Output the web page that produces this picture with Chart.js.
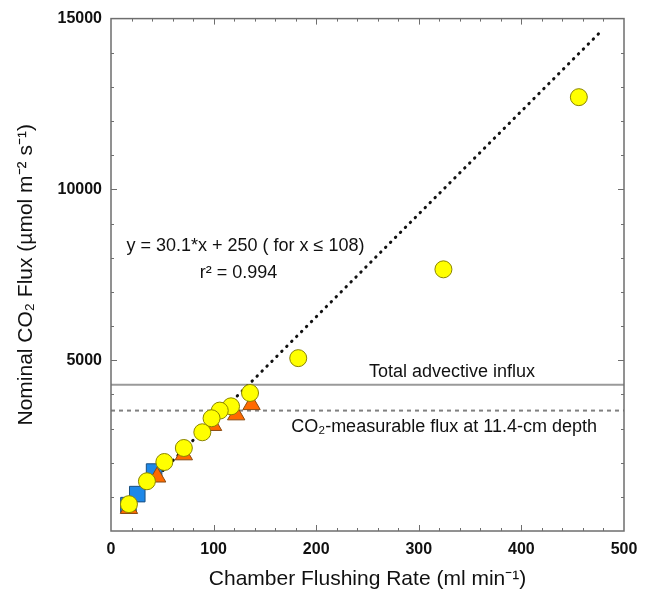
<!DOCTYPE html>
<html>
<head>
<meta charset="utf-8">
<script src="https://cdn.jsdelivr.net/npm/chart.js@4.4.1/dist/chart.umd.min.js"></script>
<style>
  html, body { margin: 0; padding: 0; background: #fff; }
  #wrap { width: 648px; height: 592px; }
</style>
</head>
<body>
<div id="wrap"><canvas id="myChart" width="648" height="592"></canvas></div>
<script>
// flushing rate (ml/min) and nominal CO2 flux
const rateCircle = [456, 324, 182.5, 135.5, 117, 106, 98, 89, 71, 52, 35, 17.5];
const fluxCircle = [12700, 7660, 5060, 4040, 3650, 3525, 3300, 2890, 2430, 2020, 1456, 786];
const rateTriangle = [17.5, 45, 71, 99.5, 122, 137];
const fluxTriangle = [660, 1580, 2230, 3090, 3400, 3700];
const rateSquare = [17, 25.6, 42];
const fluxSquare = [757, 1080, 1740];

// fitted line y = 30.1*x + 250, end points
const fitRate = [17, 478];
const fitFlux = [760, 14640];

// reference levels
const levelRate = [0, 500];
const totalInflux = [4280, 4280];
const measurableFlux = [3525, 3525];

const xTicks = [0, 100, 200, 300, 400, 500];
const yTicks = [5000, 10000, 15000];

const toPoints = (xs, ys) => xs.map((x, i) => ({ x: x, y: ys[i] }));

const FONT = '"Liberation Sans", Arial, sans-serif';

// frame, inward ticks and text notes
const decor = {
    id: 'decor',
    afterDraw(chart) {
        const ctx = chart.ctx;
        const a = chart.chartArea;
        const xs = chart.scales.x;
        const ys = chart.scales.y;
        ctx.save();
        ctx.strokeStyle = '#6e6e6e';
        ctx.lineWidth = 1.5;
        ctx.strokeRect(a.left, a.top, a.right - a.left, a.bottom - a.top);

        ctx.lineWidth = 1;
        for (let v = 20; v < 500; v += 20) {
            const px = Math.round(xs.getPixelForValue(v)) + 0.5;
            const len = v % 100 === 0 ? 6 : 3;
            ctx.beginPath();
            ctx.moveTo(px, a.bottom); ctx.lineTo(px, a.bottom - len);
            ctx.moveTo(px, a.top); ctx.lineTo(px, a.top + len);
            ctx.stroke();
        }
        for (let v = 1000; v < 15000; v += 1000) {
            const py = Math.round(ys.getPixelForValue(v)) + 0.5;
            const len = v % 5000 === 0 ? 6 : 3;
            ctx.beginPath();
            ctx.moveTo(a.left, py); ctx.lineTo(a.left + len, py);
            ctx.moveTo(a.right, py); ctx.lineTo(a.right - len, py);
            ctx.stroke();
        }

        ctx.fillStyle = '#111';
        ctx.textBaseline = 'middle';
        ctx.textAlign = 'center';
        ctx.font = '18px ' + FONT;
        ctx.fillText('y = 30.1*x + 250 ( for x \u2264 108)', xs.getPixelForValue(131), ys.getPixelForValue(8330));
        ctx.fillText('r\u00B2 = 0.994', xs.getPixelForValue(124.3), ys.getPixelForValue(7545));
        ctx.fillText('Total advective influx', xs.getPixelForValue(332.4), ys.getPixelForValue(4660));
        ctx.fillText('CO\u2082-measurable flux at 11.4-cm depth', xs.getPixelForValue(324.6), ys.getPixelForValue(3030));
        ctx.restore();
    }
};

const ctx = document.getElementById('myChart').getContext('2d');

const myChart = new Chart(ctx, {
    type: 'scatter',
    data: {
        datasets: [
            {
                label: 'Measured',
                data: toPoints(rateCircle, fluxCircle),
                pointStyle: 'circle',
                pointRadius: 8.5,
                backgroundColor: '#ffff00',
                borderColor: '#8a8400',
                borderWidth: 1,
                order: 1
            },
            {
                label: 'Triangles',
                data: toPoints(rateTriangle, fluxTriangle),
                pointStyle: 'triangle',
                pointRadius: 10,
                backgroundColor: '#ff6a00',
                borderColor: '#8a4a10',
                borderWidth: 1,
                order: 2
            },
            {
                label: 'Squares',
                data: toPoints(rateSquare, fluxSquare),
                pointStyle: 'rect',
                pointRadius: 11,
                backgroundColor: '#1e88e8',
                borderColor: '#1a4f80',
                borderWidth: 1,
                order: 3
            },
            {
                label: 'Fit',
                type: 'line',
                data: toPoints(fitRate, fitFlux),
                borderColor: '#111',
                borderWidth: 3,
                borderDash: [0.5, 6.5],
                borderCapStyle: 'round',
                pointRadius: 0,
                order: 4
            },
            {
                label: 'Total advective influx',
                type: 'line',
                data: toPoints(levelRate, totalInflux),
                borderColor: '#9a9a9a',
                borderWidth: 2,
                pointRadius: 0,
                order: 5
            },
            {
                label: 'CO2-measurable flux',
                type: 'line',
                data: toPoints(levelRate, measurableFlux),
                borderColor: '#808080',
                borderWidth: 2,
                borderDash: [4, 4],
                pointRadius: 0,
                order: 6
            }
        ]
    },
    options: {
        responsive: false,
        animation: false,
        layout: { padding: { top: 16, right: 24, left: 0, bottom: 0 } },
        plugins: {
            legend: { display: false },
            tooltip: { enabled: false }
        },
        scales: {
            x: {
                type: 'linear',
                min: 0,
                max: 500,
                afterFit: (scale) => { scale.height = 61; },
                afterBuildTicks: (scale) => { scale.ticks = xTicks.map(v => ({ value: v })); },
                grid: { display: false, drawTicks: false },
                border: { display: false },
                ticks: {
                    color: '#111',
                    padding: 9,
                    callback: (v) => String(v),
                    font: { family: FONT, size: 16, weight: 'bold' }
                },
                title: {
                    display: true,
                    text: 'Chamber Flushing Rate (ml min\u207B\u00B9)',
                    color: '#111',
                    padding: { top: 3, bottom: 0 },
                    font: { family: FONT, size: 21 }
                }
            },
            y: {
                type: 'linear',
                min: 0,
                max: 15000,
                afterFit: (scale) => { scale.width = 111; },
                afterBuildTicks: (scale) => { scale.ticks = yTicks.map(v => ({ value: v })); },
                grid: { display: false, drawTicks: false },
                border: { display: false },
                ticks: {
                    color: '#111',
                    padding: 9,
                    callback: (v) => String(v),
                    font: { family: FONT, size: 16, weight: 'bold' }
                },
                title: {
                    display: true,
                    text: 'Nominal CO\u2082 Flux (\u00B5mol m\u207B\u00B2 s\u207B\u00B9)',
                    color: '#111',
                    padding: { top: 14, bottom: 0 },
                    font: { family: FONT, size: 21 }
                }
            }
        }
    },
    plugins: [decor]
});
</script>
</body>
</html>
